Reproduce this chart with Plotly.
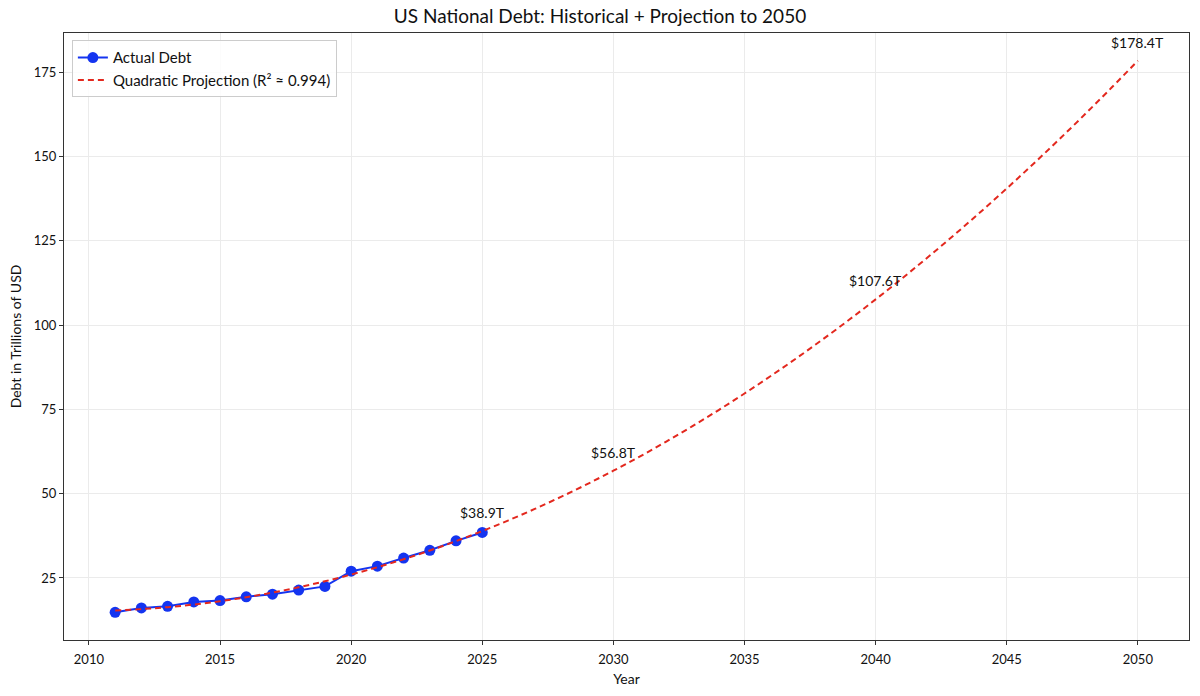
import plotly.graph_objects as go

years_actual = list(range(2011, 2026))
debt_actual = [14.8, 16.1, 16.6, 17.9, 18.3, 19.4, 20.2, 21.4, 22.5,
               27.0, 28.5, 30.9, 33.2, 36.0, 38.5]

years_proj = list(range(2011, 2051))
debt_proj = [15.38, 15.76, 16.34, 17.12, 18.10, 19.28, 20.66, 22.24, 24.02, 26.00,
             28.18, 30.56, 33.14, 35.92, 38.90, 42.08, 45.46, 49.04, 52.82, 56.80,
             60.98, 65.36, 69.94, 74.72, 79.70, 84.88, 90.26, 95.84, 101.62, 107.60,
             113.78, 120.16, 126.74, 133.52, 140.50, 147.68, 155.06, 162.64, 170.42, 178.40]

label_years = [2025, 2030, 2040, 2050]
label_values = [38.9, 56.8, 107.6, 178.4]
label_texts = ["$38.9T", "$56.8T", "$107.6T", "$178.4T"]

x_ticks = [2010, 2015, 2020, 2025, 2030, 2035, 2040, 2045, 2050]
y_ticks = [25, 50, 75, 100, 125, 150, 175]

FONT = "Lato, Noto Sans, sans-serif"

fig = go.Figure()
fig.add_trace(go.Scatter(
    x=years_actual, y=debt_actual, mode="lines+markers", name="Actual Debt",
    line=dict(color="#1434f0", width=2),
    marker=dict(color="#1434f0", size=11),
))
fig.add_trace(go.Scatter(
    x=years_proj, y=debt_proj, mode="lines", name="Quadratic Projection (R² ≈ 0.994)",
    line=dict(color="#e3281e", width=2, dash="6px,4px", shape="spline"),
))

for yr, v, t in zip(label_years, label_values, label_texts):
    fig.add_annotation(x=yr, y=v, text=t, showarrow=False, xanchor="center",
                       yanchor="bottom", yshift=8,
                       font=dict(family=FONT, size=14, color="#111"))

axis_common = dict(showline=True, linecolor="#333", linewidth=1.2, mirror=True,
                   ticks="outside", ticklen=4, tickcolor="#333",
                   showgrid=True, gridcolor="#ebebeb", gridwidth=1, zeroline=False,
                   tickfont=dict(family=FONT, size=13, color="#111"))

fig.update_xaxes(range=[2009.05, 2051.95], tickvals=x_ticks, ticklabelstandoff=3,
                 title=dict(text="Year", font=dict(family=FONT, size=14, color="#111"), standoff=8),
                 **axis_common)
fig.update_yaxes(range=[6.6, 186.6], tickvals=y_ticks,
                 title=dict(text="Debt in Trillions of USD", font=dict(family=FONT, size=14, color="#111"), standoff=8),
                 **axis_common)

fig.update_layout(
    width=1200, height=696,
    margin=dict(l=64, r=11, t=33, b=56),
    paper_bgcolor="white", plot_bgcolor="white",
    title=dict(text="US National Debt: Historical + Projection to 2050",
               x=0.5, xanchor="center", y=0.977, yanchor="middle",
               font=dict(family=FONT, size=19, color="#111")),
    legend=dict(x=0.007, y=0.988, xanchor="left", yanchor="top",
                bgcolor="rgba(255,255,255,0.85)", bordercolor="#ccc", borderwidth=1,
                font=dict(family=FONT, size=15, color="#111")),
    showlegend=True,
)

fig.write_html("out.html")
